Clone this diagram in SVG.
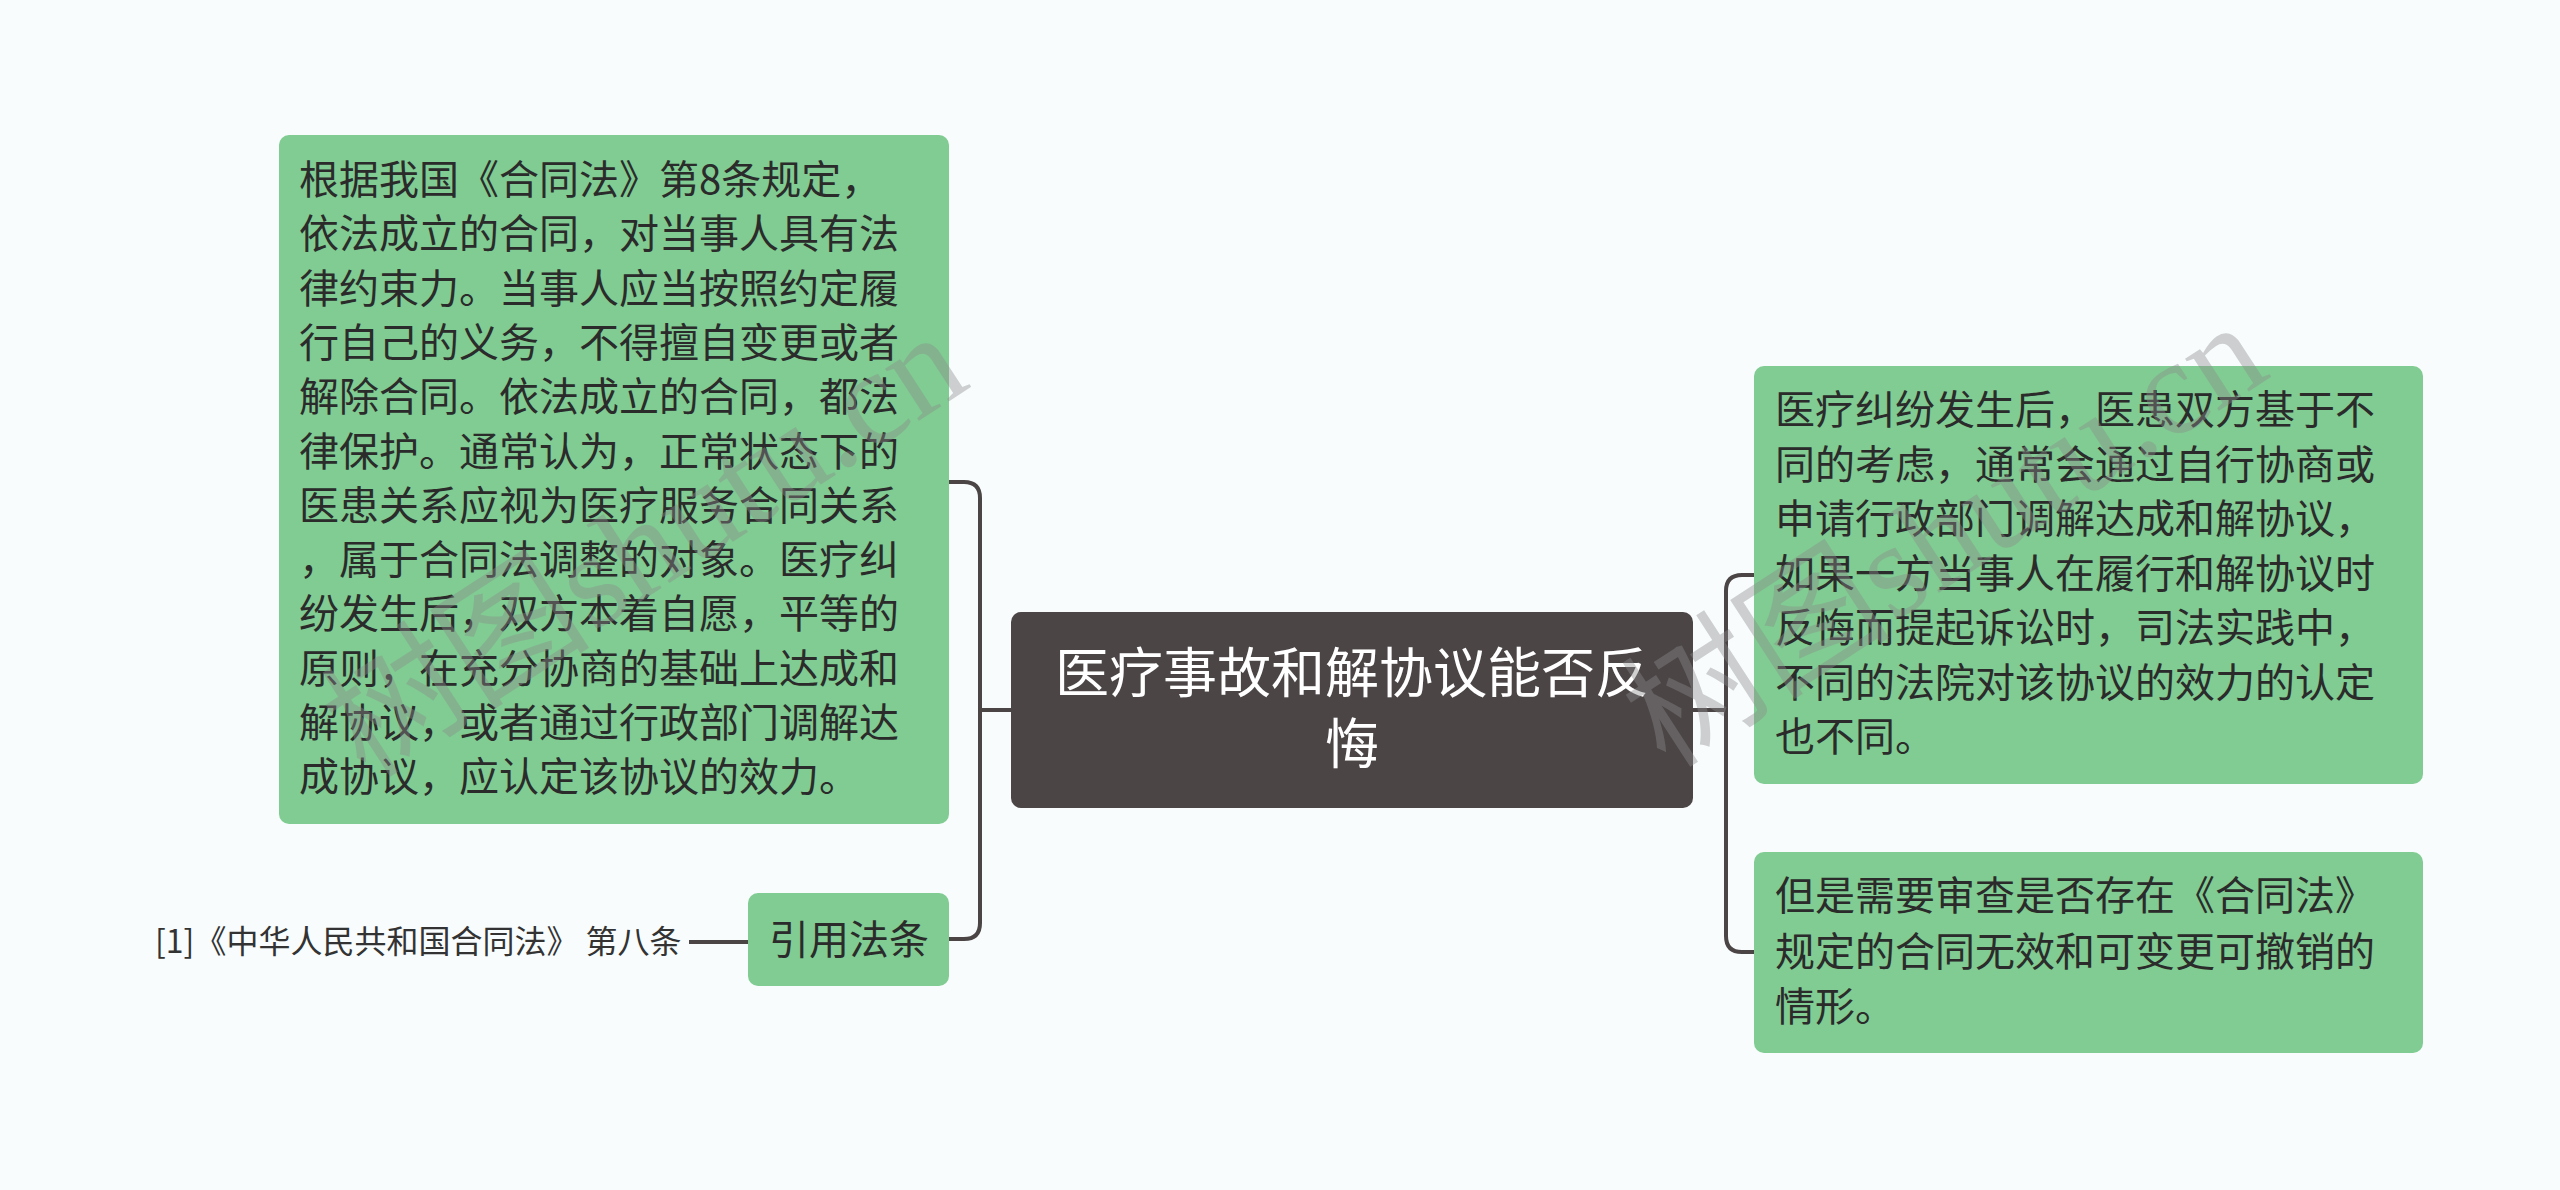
<svg xmlns="http://www.w3.org/2000/svg" width="2560" height="1190" viewBox="0 0 2560 1190">
<style>
.bg{fill:#f8fcfd}
.green{fill:#80cc92}
.dark{fill:#4b4546}
.t{font-family:"Noto Sans CJK SC","Noto Sans",sans-serif;font-size:40px;fill:#2b2b2b}
.ct{font-family:"Noto Sans CJK SC","Noto Sans",sans-serif;font-size:54px;fill:#ffffff;text-anchor:middle}
.ref{font-family:"Noto Sans CJK SC","Noto Sans",sans-serif;font-size:32px;fill:#333333}
.conn{fill:none;stroke:#4b4546;stroke-width:4}
.wm{font-family:"Liberation Serif","Noto Sans CJK SC",serif;font-size:135px;fill:#8c8c8c;opacity:0.4;text-anchor:middle}
</style>
<rect class="bg" x="0" y="0" width="2560" height="1190"/>
<g id="connectors">
<path class="conn" d="M 949 482 H 964 Q 980 482 980 498 V 923 Q 980 939 964 939 H 949"/>
<path class="conn" d="M 980 710 H 1011"/>
<path class="conn" d="M 1754 575 H 1742 Q 1726 575 1726 591 V 936 Q 1726 952 1742 952 H 1754"/>
<path class="conn" d="M 1693 710 H 1726"/>
<path class="conn" d="M 689 942 H 748"/>
</g>
<g id="center">
<rect class="dark" x="1011" y="612" width="682" height="196" rx="10"/>
<text class="ct" x="1352" y="693">医疗事故和解协议能否反</text>
<text class="ct" x="1352" y="764">悔</text>
</g>
<g id="left-text">
<rect class="green" x="279" y="135" width="670" height="689" rx="10"/>
<text class="t" x="299" y="194">根据我国《合同法》第8条规定，</text>
<text class="t" x="299" y="248">依法成立的合同，对当事人具有法</text>
<text class="t" x="299" y="303">律约束力。当事人应当按照约定履</text>
<text class="t" x="299" y="357">行自己的义务，不得擅自变更或者</text>
<text class="t" x="299" y="411">解除合同。依法成立的合同，都法</text>
<text class="t" x="299" y="466">律保护。通常认为，正常状态下的</text>
<text class="t" x="299" y="520">医患关系应视为医疗服务合同关系</text>
<text class="t" x="299" y="574">，属于合同法调整的对象。医疗纠</text>
<text class="t" x="299" y="628">纷发生后，双方本着自愿，平等的</text>
<text class="t" x="299" y="683">原则，在充分协商的基础上达成和</text>
<text class="t" x="299" y="737">解协议，或者通过行政部门调解达</text>
<text class="t" x="299" y="791">成协议，应认定该协议的效力。</text>
</g>
<g id="cite">
<rect class="green" x="748" y="893" width="201" height="93" rx="10"/>
<text class="t" x="849" y="954" text-anchor="middle">引用法条</text>
</g>
<g id="cite-ref">
<text class="ref" x="155" y="953">[1]《中华人民共和国合同法》 第八条</text>
</g>
<g id="right-1">
<rect class="green" x="1754" y="366" width="669" height="418" rx="10"/>
<text class="t" x="1775" y="424">医疗纠纷发生后，医患双方基于不</text>
<text class="t" x="1775" y="479">同的考虑，通常会通过自行协商或</text>
<text class="t" x="1775" y="533">申请行政部门调解达成和解协议，</text>
<text class="t" x="1775" y="588">如果一方当事人在履行和解协议时</text>
<text class="t" x="1775" y="642">反悔而提起诉讼时，司法实践中，</text>
<text class="t" x="1775" y="697">不同的法院对该协议的效力的认定</text>
<text class="t" x="1775" y="751">也不同。</text>
</g>
<g id="right-2">
<rect class="green" x="1754" y="852" width="669" height="201" rx="10"/>
<text class="t" x="1775" y="910">但是需要审查是否存在《合同法》</text>
<text class="t" x="1775" y="966">规定的合同无效和可变更可撤销的</text>
<text class="t" x="1775" y="1021">情形。</text>
</g>
<g id="watermarks">
<text class="wm" transform="translate(645,545) rotate(-33)" y="45">树图shutu.cn</text>
<text class="wm" transform="translate(1945,535) rotate(-33)" y="45">树图shutu.cn</text>
</g>
</svg>
